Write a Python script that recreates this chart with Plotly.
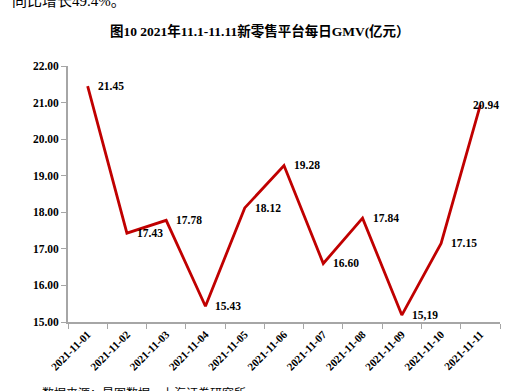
import plotly.graph_objects as go

dates = ["2021-11-01", "2021-11-02", "2021-11-03", "2021-11-04", "2021-11-05", "2021-11-06",
         "2021-11-07", "2021-11-08", "2021-11-09", "2021-11-10", "2021-11-11"]
gmv = [21.45, 17.43, 17.78, 15.43, 18.12, 19.28, 16.60, 17.84, 15.19, 17.15, 20.94]
label_text = ["21.45", "17.43", "17.78", "15.43", "18.12", "19.28", "16.60", "17.84", "15,19", "17.15", "20.94"]
y_ticks = [15, 16, 17, 18, 19, 20, 21, 22]

serif = "Liberation Serif, Times New Roman, serif"
cjk = "Liberation Serif, Noto Sans CJK SC, serif"

fig = go.Figure()
fig.add_trace(go.Scatter(x=dates, y=gmv, mode="lines",
                         line=dict(color="#C00000", width=2.8), showlegend=False,
                         hoverinfo="skip"))

for i, (d, v, t) in enumerate(zip(dates, gmv, label_text)):
    last = i == len(dates) - 1
    fig.add_annotation(x=d, y=v, text="<b>%s</b>" % t, showarrow=False,
                       xanchor="center" if last else "left",
                       xshift=6 if last else 8, yshift=0,
                       font=dict(family=serif, size=11.5, color="#000000"))

fig.add_annotation(xref="paper", yref="paper", x=0.445, y=1.0, yshift=35,
                   text="<b>图10 2021年11.1-11.11新零售平台每日GMV(亿元）</b>",
                   showarrow=False, xanchor="center", yanchor="middle",
                   font=dict(family=cjk, size=13.5, color="#000000"))
fig.add_annotation(xref="paper", yref="paper", x=-0.134, y=1.0, yshift=65,
                   text="同比增长49.4%。", showarrow=False, xanchor="left", yanchor="middle",
                   font=dict(family=cjk, size=15, color="#000000"))
fig.add_annotation(xref="paper", yref="paper", x=-0.065, y=0.0, yshift=-71,
                   text="数据来源：星图数据，上海证券研究所", showarrow=False,
                   xanchor="left", yanchor="middle",
                   font=dict(family=cjk, size=12, color="#000000"))

fig.update_xaxes(type="category", tickson="boundaries", ticks="outside", ticklen=5,
                 tickcolor="#A6A6A6", tickwidth=1, showline=True, linecolor="#A6A6A6",
                 linewidth=1.5, showgrid=False, tickangle=-45, range=[-0.5, 10.5],
                 tickfont=dict(family=serif, size=11, color="#000000", weight="bold"))
fig.update_yaxes(range=[15, 22], tickvals=y_ticks, tickformat=".2f", ticks="outside",
                 ticklen=5, tickcolor="#A6A6A6", tickwidth=1, showline=True,
                 linecolor="#A6A6A6", linewidth=1.8, showgrid=False, zeroline=False,
                 tickfont=dict(family=serif, size=11.5, color="#000000", weight="bold"))

fig.update_layout(width=512, height=391, margin=dict(l=68, r=12, t=66, b=69, autoexpand=False),
                  plot_bgcolor="#FFFFFF", paper_bgcolor="#FFFFFF")

fig.write_html("out.html", config={"displayModeBar": False},
               post_script="document.body.style.margin='0';document.body.style.overflow='hidden';")
